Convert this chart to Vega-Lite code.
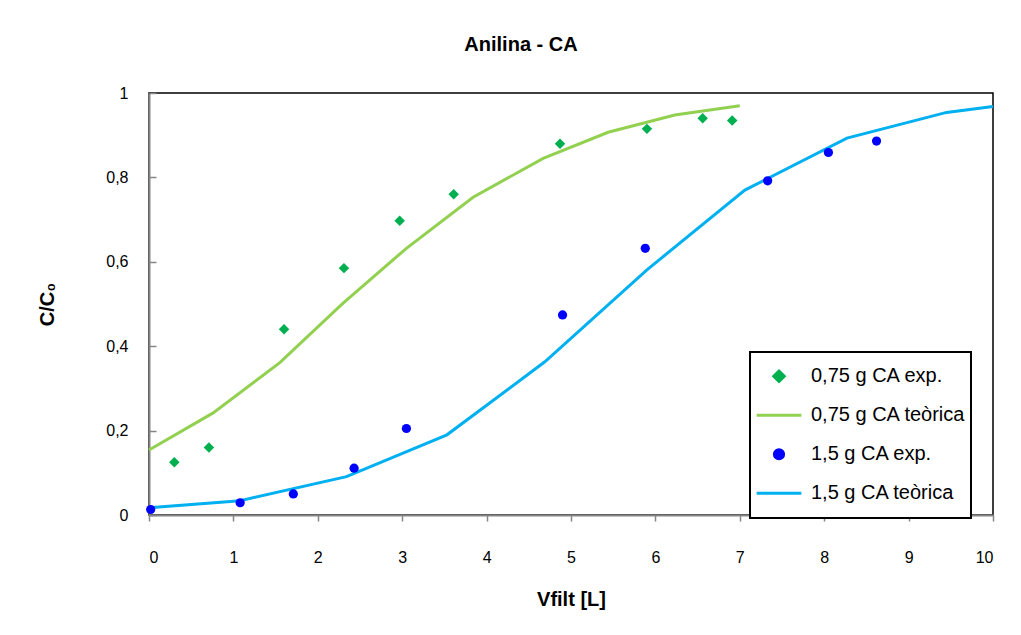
{
  "$schema": "https://vega.github.io/schema/vega-lite/v6.json",
  "width": 844,
  "height": 422,
  "autosize": {"type": "none"},
  "padding": {"left": 149, "top": 93, "right": 28, "bottom": 120},
  "background": "white",
  "title": {"text": "Anilina - CA", "fontSize": 20, "font": "Liberation Sans", "fontWeight": "bold", "color": "black", "anchor": "middle", "offset": 30, "dx": -50},
  "config": {"view": {"stroke": "black", "strokeWidth": 1.5}, "font": "Liberation Sans"},
  "data": {"values": [
    {"V": 0.30, "C": 0.125, "serie": "0,75 g CA exp."},
    {"V": 0.71, "C": 0.16, "serie": "0,75 g CA exp."},
    {"V": 1.60, "C": 0.44, "serie": "0,75 g CA exp."},
    {"V": 2.31, "C": 0.585, "serie": "0,75 g CA exp."},
    {"V": 2.97, "C": 0.697, "serie": "0,75 g CA exp."},
    {"V": 3.61, "C": 0.76, "serie": "0,75 g CA exp."},
    {"V": 4.87, "C": 0.88, "serie": "0,75 g CA exp."},
    {"V": 5.90, "C": 0.915, "serie": "0,75 g CA exp."},
    {"V": 6.56, "C": 0.94, "serie": "0,75 g CA exp."},
    {"V": 6.91, "C": 0.935, "serie": "0,75 g CA exp."},
    {"V": 0.00, "C": 0.154, "serie": "0,75 g CA teòrica"},
    {"V": 0.76, "C": 0.242, "serie": "0,75 g CA teòrica"},
    {"V": 1.55, "C": 0.361, "serie": "0,75 g CA teòrica"},
    {"V": 2.30, "C": 0.502, "serie": "0,75 g CA teòrica"},
    {"V": 3.05, "C": 0.632, "serie": "0,75 g CA teòrica"},
    {"V": 3.84, "C": 0.753, "serie": "0,75 g CA teòrica"},
    {"V": 4.67, "C": 0.845, "serie": "0,75 g CA teòrica"},
    {"V": 5.44, "C": 0.907, "serie": "0,75 g CA teòrica"},
    {"V": 6.23, "C": 0.948, "serie": "0,75 g CA teòrica"},
    {"V": 7.00, "C": 0.97, "serie": "0,75 g CA teòrica"},
    {"V": 0.02, "C": 0.013, "serie": "1,5 g CA exp."},
    {"V": 1.08, "C": 0.029, "serie": "1,5 g CA exp."},
    {"V": 1.71, "C": 0.05, "serie": "1,5 g CA exp."},
    {"V": 2.43, "C": 0.111, "serie": "1,5 g CA exp."},
    {"V": 3.05, "C": 0.205, "serie": "1,5 g CA exp."},
    {"V": 4.90, "C": 0.474, "serie": "1,5 g CA exp."},
    {"V": 5.88, "C": 0.632, "serie": "1,5 g CA exp."},
    {"V": 7.33, "C": 0.792, "serie": "1,5 g CA exp."},
    {"V": 8.05, "C": 0.859, "serie": "1,5 g CA exp."},
    {"V": 8.62, "C": 0.886, "serie": "1,5 g CA exp."},
    {"V": 0.00, "C": 0.017, "serie": "1,5 g CA teòrica"},
    {"V": 1.08, "C": 0.034, "serie": "1,5 g CA teòrica"},
    {"V": 2.34, "C": 0.091, "serie": "1,5 g CA teòrica"},
    {"V": 3.53, "C": 0.19, "serie": "1,5 g CA teòrica"},
    {"V": 4.69, "C": 0.363, "serie": "1,5 g CA teòrica"},
    {"V": 5.90, "C": 0.581, "serie": "1,5 g CA teòrica"},
    {"V": 7.06, "C": 0.77, "serie": "1,5 g CA teòrica"},
    {"V": 8.27, "C": 0.893, "serie": "1,5 g CA teòrica"},
    {"V": 9.45, "C": 0.954, "serie": "1,5 g CA teòrica"},
    {"V": 10.00, "C": 0.968, "serie": "1,5 g CA teòrica"}
  ]},
  "encoding": {
    "x": {
      "field": "V", "type": "quantitative",
      "scale": {"domain": [0, 10], "nice": false},
      "axis": {
        "values": [0, 1, 2, 3, 4, 5, 6, 7, 8, 9, 10],
        "grid": false, "domainColor": "#868686", "domainWidth": 2,
        "tickColor": "#868686", "tickWidth": 1.5, "tickSize": 6,
        "labelPadding": 28, "labelFontSize": 16, "labelColor": "black", "labelFont": "Liberation Sans",
        "title": "Vfilt [L]", "titleFontSize": 20, "titleFont": "Liberation Sans", "titleFontWeight": "bold",
        "titleColor": "black", "titlePadding": 24
      }
    },
    "y": {
      "field": "C", "type": "quantitative",
      "scale": {"domain": [0, 1], "nice": false},
      "axis": {
        "values": [0, 0.2, 0.4, 0.6, 0.8, 1],
        "labelExpr": "replace(format(datum.value, '.1~f'), '.', ',')",
        "grid": false, "domainColor": "#868686", "domainWidth": 2,
        "tickColor": "#868686", "tickWidth": 1.5, "tickSize": -7,
        "labelPadding": 28, "labelFontSize": 16, "labelColor": "black", "labelFont": "Liberation Sans",
        "title": "C/C₀", "titleFontSize": 20, "titleFont": "Liberation Sans", "titleFontWeight": "bold",
        "titleColor": "black", "titlePadding": 48
      }
    },
    "color": {
      "field": "serie", "type": "nominal",
      "scale": {
        "domain": ["0,75 g CA exp.", "0,75 g CA teòrica", "1,5 g CA exp.", "1,5 g CA teòrica"],
        "range": ["#00B050", "#92D050", "#0000FF", "#00B0F0"]
      },
      "legend": {
        "title": null, "orient": "none", "legendX": 601, "legendY": 259,
        "strokeColor": "black", "fillColor": "white", "padding": 5,
        "labelFontSize": 20, "labelFont": "Liberation Sans", "labelColor": "black",
        "symbolStrokeWidth": 3, "labelOffset": 8, "rowPadding": 0, "clipHeight": 38.5,
        "encode": {"legend": {"update": {"strokeWidth": {"value": 2}}}}
      }
    }
  },
  "layer": [
    {
      "transform": [{"filter": {"field": "serie", "oneOf": ["0,75 g CA teòrica", "1,5 g CA teòrica"]}}],
      "mark": {"type": "line", "strokeWidth": 3}
    },
    {
      "transform": [{"filter": {"field": "serie", "oneOf": ["0,75 g CA exp.", "1,5 g CA exp."]}}],
      "mark": {"type": "point", "filled": true, "opacity": 1},
      "encoding": {
        "shape": {
          "field": "serie", "type": "nominal",
          "scale": {
            "domain": ["0,75 g CA exp.", "0,75 g CA teòrica", "1,5 g CA exp.", "1,5 g CA teòrica"],
            "range": ["diamond", "stroke", "circle", "stroke"]
          },
          "legend": {
            "title": null, "orient": "none", "legendX": 601, "legendY": 259,
            "strokeColor": "black", "fillColor": "white", "padding": 5,
            "labelFontSize": 20, "labelFont": "Liberation Sans", "labelColor": "black",
            "symbolStrokeWidth": 3, "labelOffset": 8, "rowPadding": 0, "clipHeight": 38.5
          }
        },
        "size": {
          "field": "serie", "type": "nominal",
          "scale": {
            "type": "ordinal",
            "domain": ["0,75 g CA exp.", "0,75 g CA teòrica", "1,5 g CA exp.", "1,5 g CA teòrica"],
            "range": [110, 2000, 85, 2000]
          },
          "legend": {
            "title": null, "orient": "none", "legendX": 601, "legendY": 259,
            "strokeColor": "black", "fillColor": "white", "padding": 5,
            "labelFontSize": 20, "labelFont": "Liberation Sans", "labelColor": "black",
            "symbolStrokeWidth": 3, "labelOffset": 8, "rowPadding": 0, "clipHeight": 38.5
          }
        }
      }
    }
  ]
}
